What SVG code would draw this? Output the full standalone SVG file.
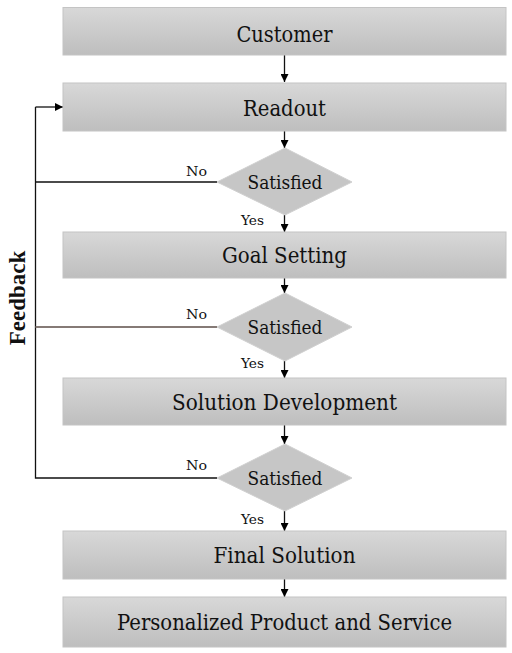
<svg xmlns="http://www.w3.org/2000/svg" width="512" height="653" viewBox="0 0 512 653">
<defs>
<linearGradient id="boxg" x1="0" y1="0" x2="0" y2="1">
<stop offset="0" stop-color="#d8d8d8"/>
<stop offset="1" stop-color="#bebebe"/>
</linearGradient>
<marker id="arr" markerWidth="8" markerHeight="8" refX="8" refY="4" orient="auto" markerUnits="userSpaceOnUse">
<path d="M0,0 L8,4 L0,8 Z" fill="#000"/>
</marker>
<style>
.box{fill:url(#boxg);stroke:#c4c4c4;stroke-width:1}
.dia{fill:#c6c6c6;stroke:#d0d0d0;stroke-width:1}
.bt,.dt,.lt{font-family:'DejaVu Serif','Liberation Serif',serif}
.bt{font-size:22px;fill:#111;text-anchor:middle}
.dt{font-size:19px;fill:#111;text-anchor:middle}
.lt{font-size:13.5px;fill:#111}
.fb{font-family:'Liberation Serif',serif;font-size:23px;font-weight:bold;fill:#111;text-anchor:middle}
.ln{stroke:#111;stroke-width:1.3;fill:none}
</style>
</defs>
<rect width="512" height="653" fill="#fff"/>
<g id="connectors">
<line class="ln" x1="284.5" y1="55" x2="284.5" y2="82" marker-end="url(#arr)"/>
<line class="ln" x1="284.5" y1="131" x2="284.5" y2="148" marker-end="url(#arr)"/>
<line class="ln" x1="284.5" y1="215" x2="284.5" y2="232" marker-end="url(#arr)"/>
<line class="ln" x1="284.5" y1="278" x2="284.5" y2="293" marker-end="url(#arr)"/>
<line class="ln" x1="284.5" y1="361" x2="284.5" y2="378" marker-end="url(#arr)"/>
<line class="ln" x1="284.5" y1="425" x2="284.5" y2="444" marker-end="url(#arr)"/>
<line class="ln" x1="284.5" y1="511" x2="284.5" y2="531" marker-end="url(#arr)"/>
<line class="ln" x1="284.5" y1="579" x2="284.5" y2="597" marker-end="url(#arr)"/>
<path class="ln" d="M217,182 H35.5 M35.5,107 V478 H217"/>
<path class="ln" d="M35.5,107 H63" marker-end="url(#arr)"/>
<line x1="35.5" y1="327" x2="217" y2="327" stroke="#857a76" stroke-width="2"/>
<text class="lt" x="186" y="176" textLength="21" lengthAdjust="spacingAndGlyphs">No</text>
<text class="lt" x="241" y="225" textLength="23" lengthAdjust="spacingAndGlyphs">Yes</text>
<text class="lt" x="186" y="319" textLength="21" lengthAdjust="spacingAndGlyphs">No</text>
<text class="lt" x="241" y="368" textLength="23" lengthAdjust="spacingAndGlyphs">Yes</text>
<text class="lt" x="186" y="470" textLength="21" lengthAdjust="spacingAndGlyphs">No</text>
<text class="lt" x="241" y="524" textLength="23" lengthAdjust="spacingAndGlyphs">Yes</text>
<text class="fb" x="25" y="298" transform="rotate(-90 25 298)">Feedback</text>
</g>
<g id="customer"><rect class="box" x="63" y="7.5" width="443" height="47.5"/><text class="bt" x="284.5" y="41.5" textLength="96" lengthAdjust="spacingAndGlyphs">Customer</text></g>
<g id="readout"><rect class="box" x="63" y="83" width="443" height="48"/><text class="bt" x="284.5" y="115.5" textLength="83" lengthAdjust="spacingAndGlyphs">Readout</text></g>
<g id="satisfied1"><polygon class="dia" points="285,148 352,182 285,215 217,182"/><text class="dt" x="285" y="189" textLength="75" lengthAdjust="spacingAndGlyphs">Satisfied</text></g>
<g id="goal"><rect class="box" x="63" y="232" width="443" height="46"/><text class="bt" x="284.5" y="263" textLength="125" lengthAdjust="spacingAndGlyphs">Goal Setting</text></g>
<g id="satisfied2"><polygon class="dia" points="285,293 352,327 285,361 217,327"/><text class="dt" x="285" y="334" textLength="75" lengthAdjust="spacingAndGlyphs">Satisfied</text></g>
<g id="solution"><rect class="box" x="63" y="378" width="443" height="47"/><text class="bt" x="284.5" y="410" textLength="225" lengthAdjust="spacingAndGlyphs">Solution Development</text></g>
<g id="satisfied3"><polygon class="dia" points="285,444 352,478 285,511 217,478"/><text class="dt" x="285" y="485" textLength="75" lengthAdjust="spacingAndGlyphs">Satisfied</text></g>
<g id="final"><rect class="box" x="63" y="531" width="443" height="48"/><text class="bt" x="284.5" y="563" textLength="142" lengthAdjust="spacingAndGlyphs">Final Solution</text></g>
<g id="personalized"><rect class="box" x="63" y="597" width="443" height="50"/><text class="bt" x="284.5" y="630" textLength="335" lengthAdjust="spacingAndGlyphs">Personalized Product and Service</text></g>
</svg>
